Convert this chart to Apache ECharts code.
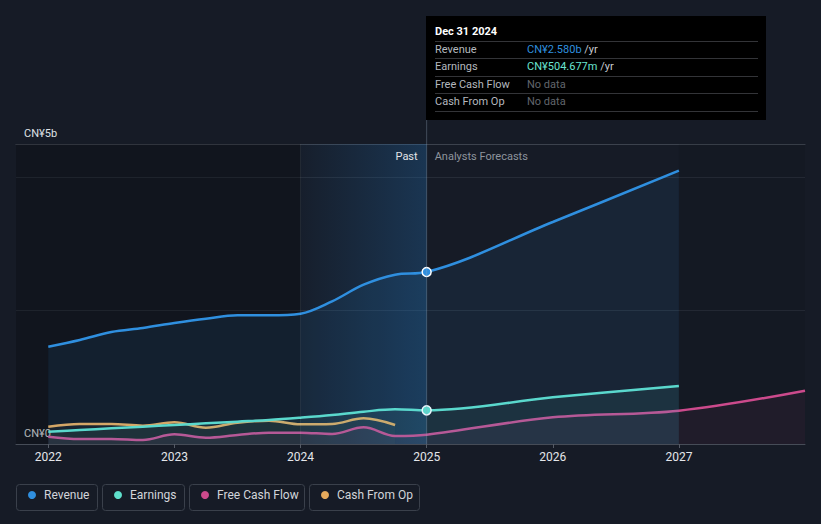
<!DOCTYPE html>
<html>
<head>
<meta charset="utf-8">
<script src="https://cdn.jsdelivr.net/npm/echarts@6/dist/echarts.min.js"></script>
<style>
html,body{margin:0;padding:0;background:#161b26;}
#c{width:821px;height:524px;}
</style>
</head>
<body>
<div id="c"></div>
<script>
// ---- data (values in CN¥ billions, x = fractional year) ----
const xTickYears = [2022, 2023, 2024, 2025, 2026, 2027];
const yTickValues = [0, 4.5];
const yTickLabels = ['CN¥0', 'CN¥5b'];
const seriesNames = ['Revenue', 'Earnings', 'Free Cash Flow', 'Cash From Op'];

const revenue = [
  [2022, 1.46], [2022.25, 1.56], [2022.5, 1.68], [2022.75, 1.74],
  [2023, 1.815], [2023.25, 1.88], [2023.5, 1.93], [2023.75, 1.93],
  [2024, 1.955], [2024.25, 2.14], [2024.5, 2.39], [2024.75, 2.54],
  [2025, 2.58], [2026, 3.33], [2027, 4.10]
];
const earnings = [
  [2022, 0.185], [2022.25, 0.21], [2022.5, 0.235], [2022.75, 0.26],
  [2023, 0.285], [2023.25, 0.31], [2023.5, 0.335], [2023.75, 0.36],
  [2024, 0.395], [2024.25, 0.435], [2024.5, 0.485], [2024.75, 0.52],
  [2025, 0.505], [2026, 0.70], [2027, 0.87]
];
const freeCashFlow = [
  [2022, 0.11], [2022.25, 0.075], [2022.5, 0.075], [2022.75, 0.06],
  [2023, 0.145], [2023.25, 0.095], [2023.5, 0.135], [2023.75, 0.17],
  [2024, 0.17], [2024.25, 0.15], [2024.5, 0.25], [2024.75, 0.12],
  [2025, 0.14], [2026, 0.40], [2027, 0.50], [2028, 0.80]
];
const cashFromOp = [
  [2022, 0.26], [2022.25, 0.30], [2022.5, 0.30], [2022.75, 0.275],
  [2023, 0.325], [2023.25, 0.245], [2023.5, 0.32], [2023.75, 0.35],
  [2024, 0.295], [2024.25, 0.30], [2024.5, 0.385], [2024.75, 0.285]
];

const xMin = 2021.744, xMax = 2028.0;
const yMax = 4.5, yInterval = 2;
const pastHighlightStart = 2024, today = 2025, forecastEnd = 2027;

const tooltipTitle = 'Dec 31 2024';
const tooltipRows = [
  ['Revenue', 'CN¥2.580b'],
  ['Earnings', 'CN¥504.677m'],
  ['Free Cash Flow', null],
  ['Cash From Op', null]
];

// ---- styling ----
const colors = ['#2f8fdf', '#5fe0cc', '#cc4a8c', '#e6aa5c'];
const areaColors = ['rgba(47,143,223,0.13)', 'rgba(95,224,204,0.10)', 'rgba(204,74,140,0.10)', 'rgba(230,170,92,0.05)'];
const FONT = 'Roboto, "Noto Sans", sans-serif';

const chart = echarts.init(document.getElementById('c'), null, {renderer: 'svg'});

function withMarker(arr, color) {
  return arr.map(p => p[0] === today
    ? {value: p, symbol: 'circle', symbolSize: 9,
       itemStyle: {color: color, borderColor: '#ffffff', borderWidth: 1.5}}
    : p);
}

const dataSets = [withMarker(revenue, colors[0]), withMarker(earnings, colors[1]), freeCashFlow, cashFromOp];

const series = dataSets.map((d, i) => ({
  name: seriesNames[i],
  type: 'line',
  data: d,
  smooth: 0.35,
  symbol: 'none',
  color: colors[i],
  lineStyle: {width: 2.5, color: colors[i]},
  areaStyle: {color: areaColors[i], origin: 0},
  emphasis: {disabled: true},
  silent: true,
  z: 5 - i
}));

// background regions
series[0].markArea = {
  silent: true,
  data: [
    [{xAxis: xMin, itemStyle: {color: 'rgba(0,0,0,0.2)'}}, {xAxis: pastHighlightStart}],
    [{xAxis: pastHighlightStart, itemStyle: {color: new echarts.graphic.LinearGradient(0, 0, 1, 0, [
      {offset: 0, color: 'rgba(35,115,185,0.04)'},
      {offset: 1, color: 'rgba(35,115,185,0.30)'}
    ])}}, {xAxis: today}],
    [{xAxis: forecastEnd, itemStyle: {color: 'rgba(0,0,0,0.07)'}}, {xAxis: xMax}]
  ]
};

const legendLefts = [28, 114, 201, 321];
const legendBoxes = [[16, 97], [102, 184], [189, 304], [309, 419]];

const option = {
  backgroundColor: '#161b26',
  animation: false,
  grid: {left: 16, right: 16, top: 144, bottom: 80, containLabel: false},
  xAxis: [{
    type: 'value', min: xMin, max: xMax,
    axisLine: {show: true, lineStyle: {color: '#464c57', width: 1}},
    axisTick: {show: true, customValues: xTickYears, length: 4, lineStyle: {color: '#555b66'}},
    axisLabel: {customValues: xTickYears, formatter: v => String(v), color: '#e4e6ea',
      fontSize: 12, fontFamily: FONT, margin: 7},
    splitLine: {show: false}
  }, {
    type: 'value', min: xMin, max: xMax, position: 'top',
    axisLine: {show: true, lineStyle: {color: '#3c424d', width: 1}},
    axisTick: {show: false}, axisLabel: {show: false}, splitLine: {show: false}
  }],
  yAxis: {
    type: 'value', min: 0, max: yMax, interval: yInterval,
    axisLine: {show: false}, axisTick: {show: false},
    axisLabel: {
      customValues: yTickValues,
      formatter: v => yTickLabels[yTickValues.indexOf(v)] || '',
      inside: true, margin: 8, color: '#dfe1e5', fontSize: 11, fontFamily: FONT,
      verticalAlign: 'bottom', padding: [0, 0, 5, 0]
    },
    splitLine: {show: true, lineStyle: {color: '#262c37', width: 1}}
  },
  legend: seriesNames.map((n, i) => ({
    data: [n], left: legendLefts[i], top: 489, padding: 0,
    itemWidth: 8, itemHeight: 8, icon: 'circle', selectedMode: false,
    textStyle: {color: '#d2d5da', fontSize: 12, fontFamily: FONT, padding: [0, 0, 0, 3]}
  })),
  series: series,
  graphic: []
};

chart.setOption(option);

// ---- overlay graphics positioned via the library's scales ----
const todayX = chart.convertToPixel({xAxisIndex: 0}, today);
const hlX = chart.convertToPixel({xAxisIndex: 0}, pastHighlightStart);
const baseY = chart.convertToPixel({yAxisIndex: 0}, 0);
const topY = chart.convertToPixel({yAxisIndex: 0}, yMax);

const g = [];
g.push({type: 'line', shape: {x1: hlX, y1: topY, x2: hlX, y2: baseY},
  style: {stroke: 'rgba(255,255,255,0.07)', lineWidth: 1}, z: 10});
g.push({type: 'line', shape: {x1: todayX, y1: 120, x2: todayX, y2: baseY},
  style: {stroke: 'rgba(150,170,190,0.35)', lineWidth: 1}, z: 10});
g.push({type: 'text', x: todayX - 9, y: topY + 12,
  style: {text: 'Past', fill: '#e2e4e8', font: '11px ' + FONT, align: 'right', verticalAlign: 'middle'}, z: 10});
g.push({type: 'text', x: todayX + 8, y: topY + 12,
  style: {text: 'Analysts Forecasts', fill: '#8e949d', font: '11px ' + FONT, align: 'left', verticalAlign: 'middle'}, z: 10});

legendBoxes.forEach(b => g.push({type: 'rect',
  shape: {x: b[0] + 0.5, y: 484.5, width: b[1] - b[0], height: 26, r: 3},
  style: {fill: 'none', stroke: '#3a404b', lineWidth: 1}, z: 1}));

const tipX = Math.round(todayX) - 1, tipY = 16;
const tip = [];
tip.push({type: 'rect', shape: {x: tipX, y: tipY, width: 340, height: 104}, style: {fill: '#000000'}});
tip.push({type: 'text', x: tipX + 9, y: tipY + 15,
  style: {text: tooltipTitle, fill: '#ffffff', font: 'bold 11px ' + FONT, verticalAlign: 'middle'}});
const sepYs = [41, 58, 76, 93, 111];
sepYs.forEach(y => tip.push({type: 'line', shape: {x1: tipX + 9, y1: y + 0.5, x2: tipX + 332, y2: y + 0.5},
  style: {stroke: '#333438', lineWidth: 1}}));
const rowYs = [49.5, 66.5, 84.5, 101.5];
const valColors = [colors[0], '#6ae4d0'];
tooltipRows.forEach((r, i) => {
  tip.push({type: 'text', x: tipX + 9, y: rowYs[i],
    style: {text: r[0], fill: '#b4b8bf', font: '11px ' + FONT, verticalAlign: 'middle'}});
  if (r[1]) {
    tip.push({type: 'text', x: tipX + 101, y: rowYs[i],
      style: {text: '{v|' + r[1] + '} {u|/yr}', verticalAlign: 'middle', font: '11px ' + FONT,
        rich: {v: {fill: valColors[i], fontSize: 11, fontFamily: FONT},
               u: {fill: '#c8cbd0', fontSize: 11, fontFamily: FONT}}}});
  } else {
    tip.push({type: 'text', x: tipX + 101, y: rowYs[i],
      style: {text: 'No data', fill: '#62666d', font: '11px ' + FONT, verticalAlign: 'middle'}});
  }
});
g.push({type: 'group', z: 20, children: tip});

chart.setOption({graphic: g});
</script>
</body>
</html>
